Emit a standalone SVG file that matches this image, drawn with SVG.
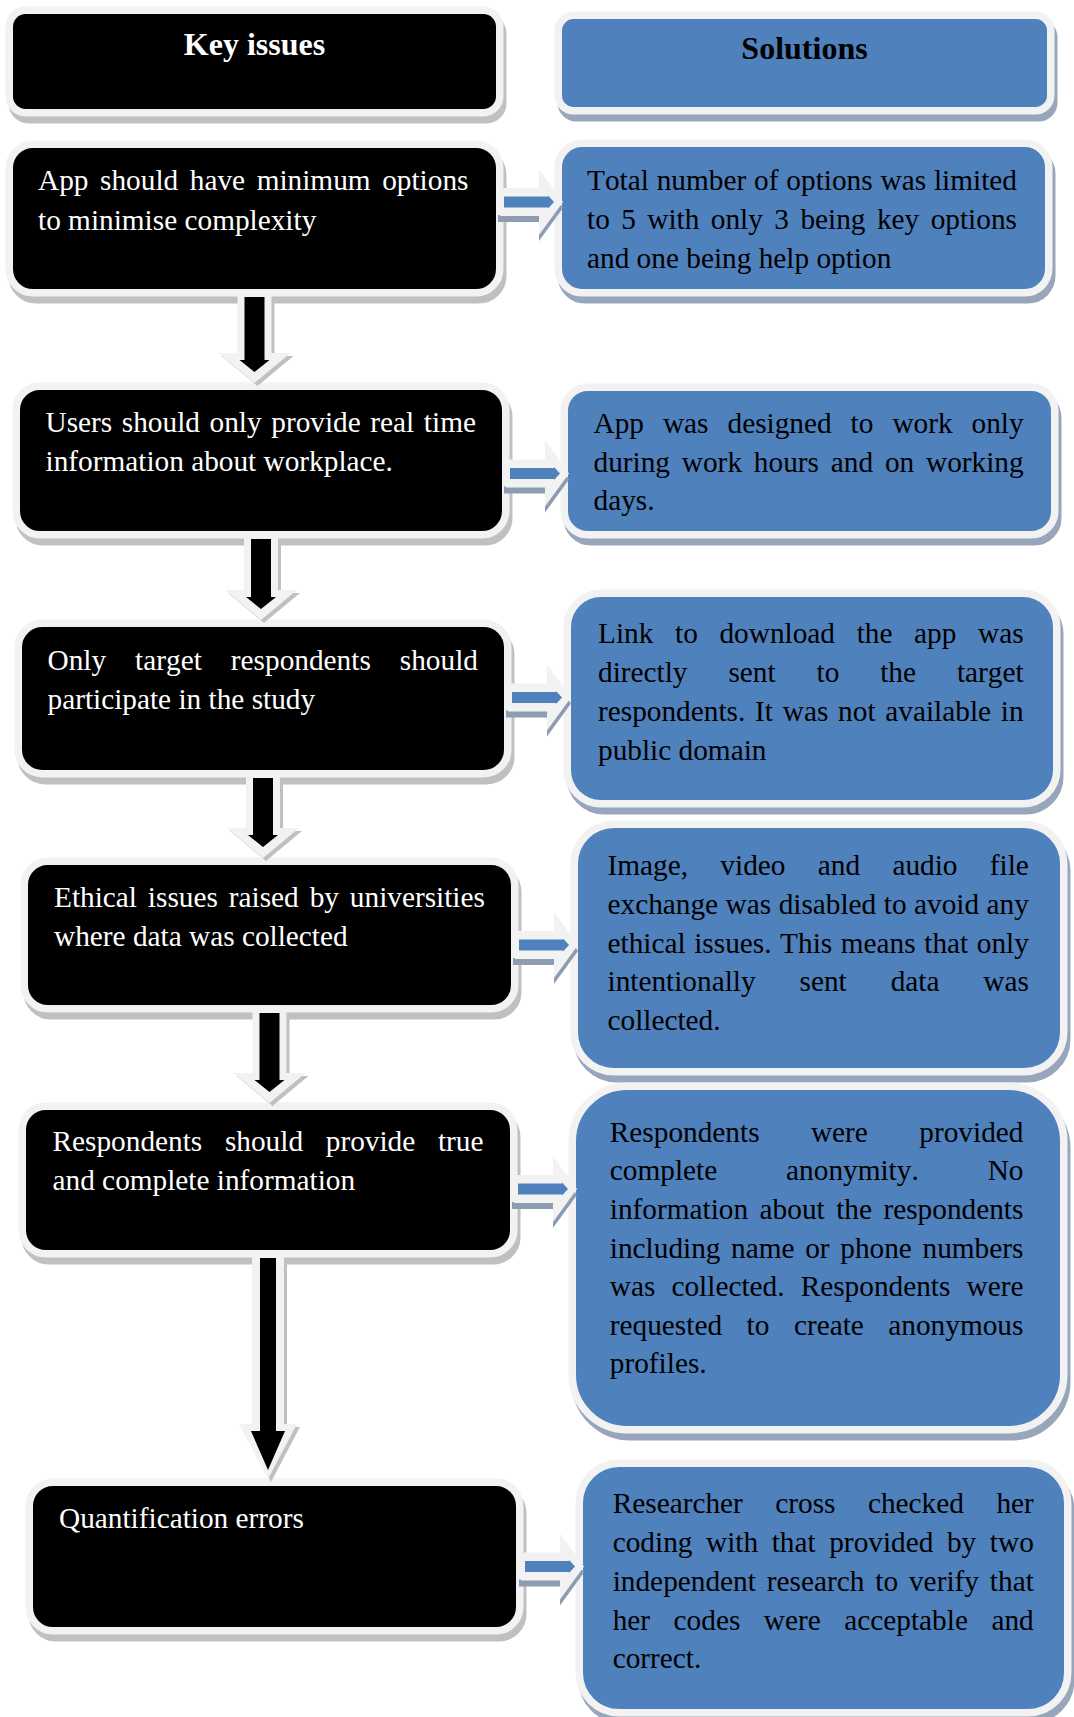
<svg xmlns="http://www.w3.org/2000/svg" width="1074" height="1717" viewBox="0 0 1074 1717">
<style>
  text { font-family: "Liberation Serif", "Times New Roman", serif; font-size: 29.3px; font-kerning: none; font-variant-ligatures: none; }
  .w { fill: #ffffff; }
  .k { fill: #000000; }
  .hd { font-weight: bold; font-size: 32px; text-anchor: middle; }
  .bk { fill: #000000; stroke: #f2f2f2; stroke-width: 7.5; }
  .bb { fill: #4f81bd; stroke: #f2f2f2; stroke-width: 7.5; }
  .sk { fill: #c0c0c0; stroke: #c0c0c0; stroke-width: 7.5; }
  .sb { fill: #97a6ba; stroke: #97a6ba; stroke-width: 7.5; }
  .al { fill: #f2f2f2; }
  .ak { fill: #000000; }
  .ab { fill: #4f81bd; }
  .ask { fill: #c0c0c0; }
  .asb { fill: #8d9cb1; }
</style>
<rect width="1074" height="1717" fill="#ffffff"/>

<!-- left column: key issues -->
<g id="issue-header">
  <rect class="sk" x="9.25" y="10.25" width="490.5" height="102.5" rx="16.4" transform="translate(3 7)"/>
  <rect class="bk" x="9.25" y="10.25" width="490.5" height="102.5" rx="16.4"/>
  <text class="w hd" x="254.5" y="55">Key issues</text>
</g>
<g id="issue-1">
  <rect class="sk" x="9.25" y="144.25" width="490.5" height="148.5" rx="23.8" transform="translate(3 7)"/>
  <rect class="bk" x="9.25" y="144.25" width="490.5" height="148.5" rx="23.8"/>
  <text class="w" x="38" y="190" word-spacing="4.26">App should have minimum options</text>
  <text class="w" x="38" y="229.5">to minimise complexity</text>
</g>
<g id="issue-2">
  <rect class="sk" x="16.25" y="386.25" width="489.5" height="148.5" rx="23.8" transform="translate(3 7)"/>
  <rect class="bk" x="16.25" y="386.25" width="489.5" height="148.5" rx="23.8"/>
  <text class="w" x="45.5" y="432" word-spacing="2.28">Users should only provide real time</text>
  <text class="w" x="45.5" y="471">information about workplace.</text>
</g>
<g id="issue-3">
  <rect class="sk" x="18.25" y="623.25" width="489.5" height="150.5" rx="24" transform="translate(3 7)"/>
  <rect class="bk" x="18.25" y="623.25" width="489.5" height="150.5" rx="24"/>
  <text class="w" x="47.5" y="670" word-spacing="21.7">Only target respondents should</text>
  <text class="w" x="47.5" y="709">participate in the study</text>
</g>
<g id="issue-4">
  <rect class="sk" x="24.25" y="861.25" width="490.5" height="147.5" rx="23.6" transform="translate(3 7)"/>
  <rect class="bk" x="24.25" y="861.25" width="490.5" height="147.5" rx="23.6"/>
  <text class="w" x="54" y="907" word-spacing="3.58">Ethical issues raised by universities</text>
  <text class="w" x="54" y="946">where data was collected</text>
</g>
<g id="issue-5">
  <rect class="sk" x="22.25" y="1106.25" width="491.5" height="147.5" rx="23.6" transform="translate(3 7)"/>
  <rect class="bk" x="22.25" y="1106.25" width="491.5" height="147.5" rx="23.6"/>
  <text class="w" x="52.5" y="1151" word-spacing="15.36">Respondents should provide true</text>
  <text class="w" x="52.5" y="1190">and complete information</text>
</g>
<g id="issue-6">
  <rect class="sk" x="29.25" y="1482.25" width="490.5" height="148.5" rx="23.8" transform="translate(3 7)"/>
  <rect class="bk" x="29.25" y="1482.25" width="490.5" height="148.5" rx="23.8"/>
  <text class="w" x="59" y="1528">Quantification errors</text>
</g>

<!-- right column: solutions -->
<g id="solution-header">
  <rect class="sb" x="558.25" y="15.25" width="492.5" height="95.5" rx="15.3" transform="translate(3 7)"/>
  <rect class="bb" x="558.25" y="15.25" width="492.5" height="95.5" rx="15.3"/>
  <text class="k hd" x="804.5" y="59">Solutions</text>
</g>
<g id="solution-1">
  <rect class="sb" x="558.25" y="143.25" width="490.5" height="149.5" rx="23.9" transform="translate(3 7)"/>
  <rect class="bb" x="558.25" y="143.25" width="490.5" height="149.5" rx="23.9"/>
  <text class="k" x="587" y="190" word-spacing="0.55">Total number of options was limited</text>
  <text class="k" x="587" y="229" word-spacing="4.11">to 5 with only 3 being key options</text>
  <text class="k" x="587" y="268">and one being help option</text>
</g>
<g id="solution-2">
  <rect class="sb" x="564.25" y="387.25" width="490.5" height="147.5" rx="23.6" transform="translate(3 7)"/>
  <rect class="bb" x="564.25" y="387.25" width="490.5" height="147.5" rx="23.6"/>
  <text class="k" x="593.5" y="433" word-spacing="11.66">App was designed to work only</text>
  <text class="k" x="593.5" y="471.5" word-spacing="4.5">during work hours and on working</text>
  <text class="k" x="593.5" y="510">days.</text>
</g>
<g id="solution-3">
  <rect class="sb" x="567.25" y="593.25" width="489.5" height="210.5" rx="33.7" transform="translate(3 7)"/>
  <rect class="bb" x="567.25" y="593.25" width="489.5" height="210.5" rx="33.7"/>
  <text class="k" x="598" y="643" word-spacing="14.34">Link to download the app was</text>
  <text class="k" x="598" y="682" word-spacing="33.6">directly sent to the target</text>
  <text class="k" x="598" y="721" word-spacing="2.46">respondents. It was not available in</text>
  <text class="k" x="598" y="760">public domain</text>
</g>
<g id="solution-4">
  <rect class="sb" x="574.25" y="824.25" width="489.5" height="247.5" rx="39.6" transform="translate(3 7)"/>
  <rect class="bb" x="574.25" y="824.25" width="489.5" height="247.5" rx="39.6"/>
  <text class="k" x="607.5" y="875" word-spacing="25">Image, video and audio file</text>
  <text class="k" x="607.5" y="914" word-spacing="0.16">exchange was disabled to avoid any</text>
  <text class="k" x="607.5" y="952.5" word-spacing="1.29">ethical issues. This means that only</text>
  <text class="k" x="607.5" y="991" word-spacing="36.6">intentionally sent data was</text>
  <text class="k" x="607.5" y="1030">collected.</text>
</g>
<g id="solution-5">
  <rect class="sb" x="572.25" y="1086.25" width="491.5" height="343.5" rx="55" transform="translate(3 7)"/>
  <rect class="bb" x="572.25" y="1086.25" width="491.5" height="343.5" rx="55"/>
  <text class="k" x="609.8" y="1141.5" word-spacing="44.1">Respondents were provided</text>
  <text class="k" x="609.8" y="1180" word-spacing="61.6">complete anonymity. No</text>
  <text class="k" x="609.8" y="1219" word-spacing="4.16">information about the respondents</text>
  <text class="k" x="609.8" y="1257.5" word-spacing="3.33">including name or phone numbers</text>
  <text class="k" x="609.8" y="1296" word-spacing="8.79">was collected. Respondents were</text>
  <text class="k" x="609.8" y="1334.5" word-spacing="17.2">requested to create anonymous</text>
  <text class="k" x="609.8" y="1373">profiles.</text>
</g>
<g id="solution-6">
  <rect class="sb" x="579.25" y="1463.25" width="488.5" height="249.5" rx="39.9" transform="translate(3 7)"/>
  <rect class="bb" x="579.25" y="1463.25" width="488.5" height="249.5" rx="39.9"/>
  <text class="k" x="612.7" y="1513" word-spacing="25.15">Researcher cross checked her</text>
  <text class="k" x="612.7" y="1552" word-spacing="6.27">coding with that provided by two</text>
  <text class="k" x="612.7" y="1590.5" word-spacing="3.59">independent research to verify that</text>
  <text class="k" x="612.7" y="1629.5" word-spacing="16.2">her codes were acceptable and</text>
  <text class="k" x="612.7" y="1668">correct.</text>
</g>

<!-- connectors: block arrows with light outline and drop shadow -->
<g id="connectors">
  <!-- downward arrows between key issues -->
  <polygon class="ask" points="240.5,297 274.5,297 274.5,356 293.5,356 257.5,386 221.5,356 240.5,356"/>
  <polygon class="al" points="237.5,289 271.5,289 271.5,353 290.5,353 254.5,383 218.5,353 237.5,353"/>
  <polygon class="ak" points="244.5,297 264.5,297 264.5,360 269.5,360 254.5,372 239.5,360 244.5,360"/>

  <polygon class="ask" points="247,539 281,539 281,593 300,593 264,623 228,593 247,593"/>
  <polygon class="al" points="244,531 278,531 278,590 297,590 261,620 225,590 244,590"/>
  <polygon class="ak" points="251,539 271,539 271,597 276,597 261,609 246,597 251,597"/>

  <polygon class="ask" points="249,778 283,778 283,831 302,831 266,861 230,831 249,831"/>
  <polygon class="al" points="246,770 280,770 280,828 299,828 263,858 227,828 246,828"/>
  <polygon class="ak" points="253,778 273,778 273,835 278,835 263,847 248,835 253,835"/>

  <polygon class="ask" points="255.5,1013 289.5,1013 289.5,1076 308.5,1076 272.5,1106 236.5,1076 255.5,1076"/>
  <polygon class="al" points="252.5,1005 286.5,1005 286.5,1073 305.5,1073 269.5,1103 233.5,1073 252.5,1073"/>
  <polygon class="ak" points="259.5,1013 279.5,1013 279.5,1080 284.5,1080 269.5,1092 254.5,1080 259.5,1080"/>

  <polygon class="ask" points="255,1258 287,1258 287,1427 300,1427 271,1482 242,1427 255,1427"/>
  <polygon class="al" points="252,1250 284,1250 284,1424 297,1424 268,1479 239,1424 252,1424"/>
  <polygon class="ak" points="260,1258 276,1258 276,1431 285,1431 268,1470 251,1431 260,1431"/>

  <!-- rightward arrows from each issue to its solution -->
  <polygon class="asb" points="498,215 539,215 539,175 563,208 539,241 539,222 498,222"/>
  <polygon class="al" points="500,188 539,188 539,169 563,202 539,235 539,216 500,216"/>
  <polygon class="ab" points="504,196.5 548,196.5 548,195.5 554,202 548,208.5 548,207.5 504,207.5"/>

  <polygon class="asb" points="504,486.5 545,486.5 545,446.5 569,479.5 545,512.5 545,493.5 504,493.5"/>
  <polygon class="al" points="506,459.5 545,459.5 545,440.5 569,473.5 545,506.5 545,487.5 506,487.5"/>
  <polygon class="ab" points="510,468 554,468 554,467 560,473.5 554,480 554,479 510,479"/>

  <polygon class="asb" points="506,710.5 547,710.5 547,670.5 571,703.5 547,736.5 547,717.5 506,717.5"/>
  <polygon class="al" points="508,683.5 547,683.5 547,664.5 571,697.5 547,730.5 547,711.5 508,711.5"/>
  <polygon class="ab" points="512,692 556,692 556,691 562,697.5 556,704 556,703 512,703"/>

  <polygon class="asb" points="513,958 554,958 554,918 578,951 554,984 554,965 513,965"/>
  <polygon class="al" points="515,931 554,931 554,912 578,945 554,978 554,959 515,959"/>
  <polygon class="ab" points="519,939.5 563,939.5 563,938.5 569,945 563,951.5 563,950.5 519,950.5"/>

  <polygon class="asb" points="512,1202 553,1202 553,1162 577,1195 553,1228 553,1209 512,1209"/>
  <polygon class="al" points="514,1175 553,1175 553,1156 577,1189 553,1222 553,1203 514,1203"/>
  <polygon class="ab" points="518,1183.5 562,1183.5 562,1182.5 568,1189 562,1195.5 562,1194.5 518,1194.5"/>

  <polygon class="asb" points="519,1579.5 560,1579.5 560,1539.5 584,1572.5 560,1605.5 560,1586.5 519,1586.5"/>
  <polygon class="al" points="521,1552.5 560,1552.5 560,1533.5 584,1566.5 560,1599.5 560,1580.5 521,1580.5"/>
  <polygon class="ab" points="525,1561 569,1561 569,1560 575,1566.5 569,1573 569,1572 525,1572"/>
</g>
</svg>
